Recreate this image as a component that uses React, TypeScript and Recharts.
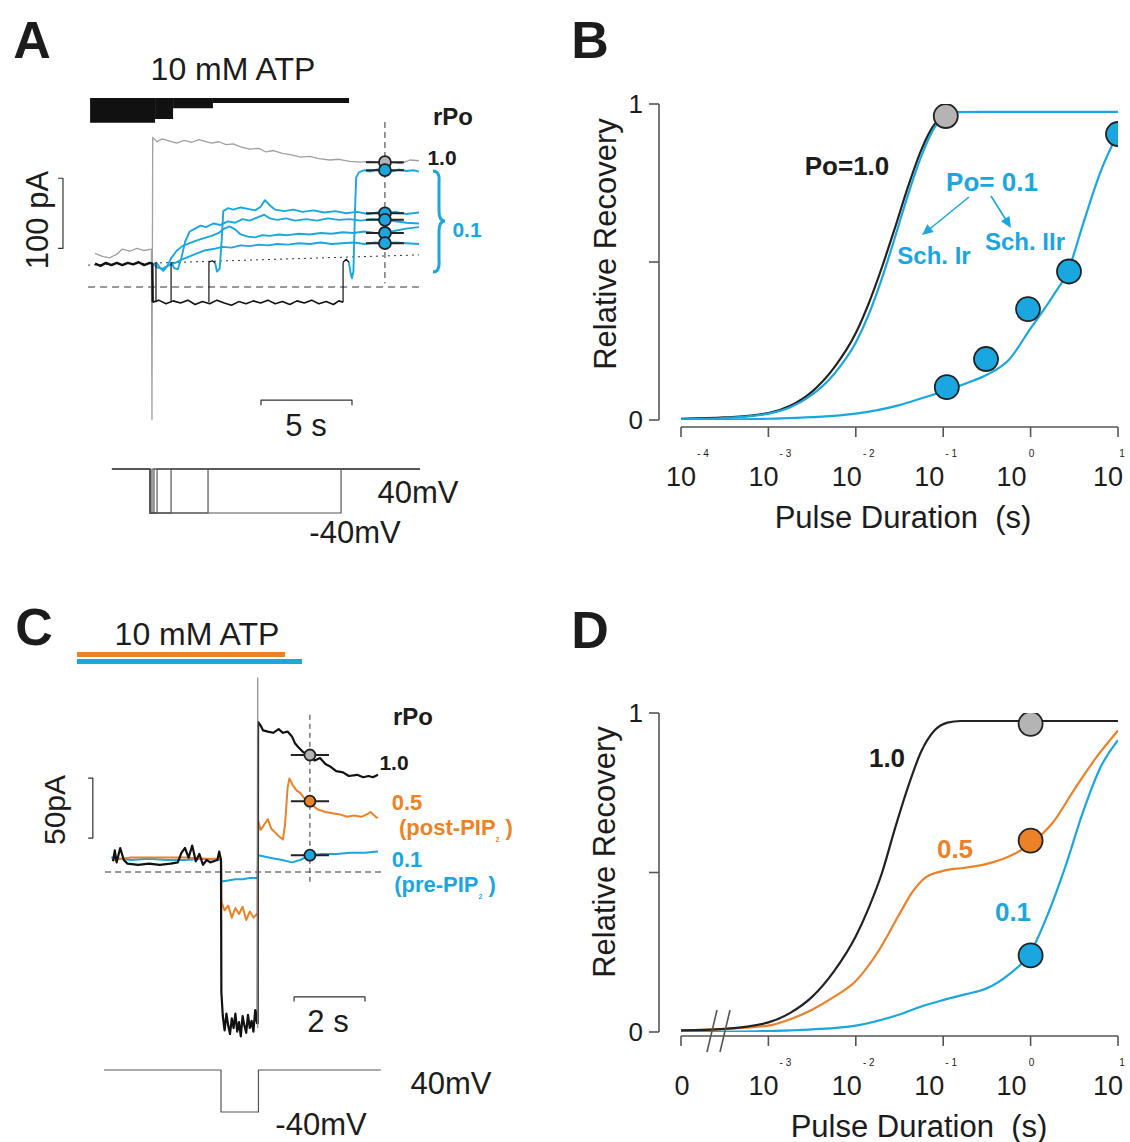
import React from "react";
import { ComposedChart, Line, XAxis, YAxis, Scatter, ErrorBar, ReferenceArea } from "recharts";

type Row = number[];

// ================= Panel A (time in s, current in pA) =================
const aGray: Row[] = [[0,46],[0.4,42],[0.8,40],[1.2,45],[1.5,52],[1.9,49],[2.3,53],[2.7,50],[3.1,52],[3.13,-182],[3.17,205],[3.4,199],[3.7,203],[4.1,200],[4.5,197],[4.9,201],[5.3,198],[5.7,202],[6.0,200],[6.4,197],[6.8,199],[7.2,195],[7.6,196],[8.0,192],[8.5,189],[9.0,190],[9.4,185],[9.8,187],[10.3,183],[10.8,181],[11.3,178],[11.8,179],[12.3,176],[12.9,174],[13.4,175],[14.0,172],[14.6,171],[15.1,172],[15.7,170],[16.2,171],[16.8,169],[17.3,174],[17.8,173]];
const aBlackPre: Row[] = [[0,32],[0.3,29],[0.6,33],[0.9,30],[1.2,33],[1.5,30],[1.8,33],[2.1,31],[2.4,34],[2.7,30],[3.0,33],[3.15,32],[3.17,-21]];
const aBlackLow: Row[] = [[3.17,-21],[3.5,-18],[3.9,-23],[4.3,-19],[4.7,-22],[5.1,-18],[5.5,-24],[5.9,-20],[6.3,-23],[6.7,-18],[7.1,-22],[7.5,-25],[7.9,-20],[8.3,-23],[8.7,-19],[9.1,-22],[9.5,-18],[9.9,-23],[10.3,-20],[10.7,-24],[11.1,-19],[11.5,-22],[11.9,-18],[12.3,-23],[12.7,-20],[13.1,-24],[13.4,-19],[13.63,-21]];
const aPulseEnds = [3.35, 4.18, 6.26, 13.63];
const aBlackHumps: Row[][] = [
  [[6.26,34],[6.45,36],[6.6,33]],
  [[13.63,34],[13.8,38],[13.95,34]],
];
const aCyanLow1: Row[] = [[6.6,33],[6.7,21],[6.85,25],[6.95,60],[7.05,104],[7.3,108],[7.6,106],[8.0,109],[8.4,107],[8.8,105],[9.1,110],[9.34,119],[9.6,112],[9.9,106],[10.4,104],[10.9,106],[11.4,103],[12.0,105],[12.6,102],[13.2,104],[13.8,101],[14.4,103],[15.0,100],[15.5,102],[15.93,101],[16.5,103],[17.1,100],[17.8,102]];
const aCyanLow2: Row[] = [[4.18,34],[4.35,26],[4.55,24],[4.75,40],[4.95,62],[5.2,76],[5.5,80],[5.8,84],[6.1,82],[6.5,87],[6.9,85],[7.3,90],[7.7,88],[8.1,93],[8.5,91],[9.0,96],[9.3,99],[9.6,94],[10.0,92],[10.5,94],[11.0,91],[11.6,93],[12.2,91],[12.8,94],[13.4,92],[14.0,93],[14.6,91],[15.2,93],[15.93,92],[16.5,90],[17.1,88],[17.8,87]];
const aCyanLow3: Row[] = [[3.35,34],[3.55,27],[3.75,22],[3.95,28],[4.2,40],[4.5,50],[4.8,56],[5.2,60],[5.6,64],[6.0,67],[6.4,70],[6.8,74],[7.1,80],[7.4,83],[7.7,79],[8.0,72],[8.4,69],[8.8,68],[9.2,71],[9.6,70],[10.1,72],[10.6,71],[11.2,73],[11.8,72],[12.4,74],[13.0,73],[13.6,75],[14.2,74],[14.8,76],[15.4,74],[15.93,74],[16.5,77],[17.1,80],[17.8,82]];
const aCyanLow4: Row[] = [[3.19,32],[3.4,27],[3.7,25],[4.0,29],[4.4,33],[4.8,38],[5.2,42],[5.6,46],[6.0,50],[6.5,52],[7.0,55],[7.5,54],[8.0,57],[8.5,56],[9.0,58],[9.5,57],[10.0,59],[10.6,58],[11.2,60],[11.8,59],[12.4,61],[13.0,59],[13.6,60],[14.2,61],[14.8,59],[15.4,61],[15.93,60],[16.5,61],[17.1,60],[17.8,59]];
const aCyanFull: Row[] = [[13.95,34],[14.05,18],[14.12,12],[14.2,22],[14.28,100],[14.35,150],[14.5,157],[14.8,160],[15.1,158],[15.5,161],[15.93,160],[16.3,158],[16.7,161],[17.1,159],[17.5,160],[17.8,158]];
const aMarkTime = 15.93;
const aMarkSpread = 1.04;
const aMarkGray = [171];
const aMarkCyan = [160, 101, 92, 74, 60];
const aZeroLine: Row[] = [[-0.38,0],[17.8,0]];
const aDriftLine: Row[] = [[-0.38,30],[17.8,44]];
const aMarkGuide: Row[] = [[15.93,226],[15.93,5]];
const aAtpTop = 259;
const aAtpSteps = [
  { from: -0.27, to: 3.30, low: 225 },
  { from: 3.30, to: 4.29, low: 230 },
  { from: 4.29, to: 6.48, low: 245 },
  { from: 6.48, to: 13.96, low: 252 },
];
const aTimeBar: Row[] = [[9.12,-162],[9.12,-155],[14.12,-155],[14.12,-162]];
const aCurrentBar: Row[] = [[-2.03,149],[-1.76,149],[-1.76,53],[-2.03,53]];
const aVoltRange = [0.93, 17.86];
const aVoltStart = 3.02;
const aVoltEnds = [3.13, 3.24, 3.41, 4.18, 6.21, 13.52];
const voltHigh = 40;
const voltLow = -40;

// ================= Panel C (time in s, current in pA) =================
const cCyan: Row[] = [[-3.05,12],[-2.5,10],[-2,11],[-1.5,10],[-1,10],[-0.5,11],[0,10],[0.01,-8],[0.2,-7],[0.4,-6],[0.6,-6],[0.8,-5],[1.0,-5],[1.02,-6],[1.03,14],[1.2,13],[1.5,11],[1.7,10],[1.97,8],[2.2,10],[2.47,14],[2.8,15],[3.2,15],[3.6,16],[4.0,16],[4.36,17]];
const cOrange: Row[] = [[-3.0,10],[-2.5,12],[-2.0,12],[-1.5,12],[-1.0,12],[-0.5,11],[0,11],[0.01,-25],[0.1,-32],[0.2,-28],[0.3,-38],[0.4,-30],[0.5,-35],[0.6,-29],[0.7,-40],[0.8,-33],[0.9,-38],[1.0,-35],[1.02,-35],[1.03,43],[1.1,35],[1.17,38],[1.3,44],[1.4,36],[1.5,33],[1.6,30],[1.72,27],[1.78,40],[1.85,70],[1.9,78],[2.0,72],[2.1,68],[2.2,66],[2.3,62],[2.47,60],[2.6,54],[2.7,52],[2.9,50],[3.1,49],[3.3,48],[3.5,46],[3.7,47],[3.9,46],[4.05,48],[4.15,50],[4.3,46],[4.36,45]];
const cBlack: Row[] = [[-3.0,9],[-2.95,18],[-2.9,8],[-2.8,20],[-2.7,10],[-2.6,7],[-2.3,6],[-2.0,7],[-1.7,6],[-1.4,7],[-1.2,8],[-1.1,16],[-1.0,20],[-0.9,12],[-0.8,22],[-0.7,9],[-0.6,15],[-0.5,6],[-0.4,10],[-0.3,8],[-0.2,9],[-0.1,10],[-0.05,17],[0,10],[0.01,-100],[0.05,-120],[0.1,-132],[0.15,-118],[0.2,-128],[0.25,-135],[0.3,-122],[0.35,-130],[0.4,-118],[0.45,-133],[0.5,-125],[0.55,-137],[0.6,-120],[0.65,-128],[0.7,-134],[0.75,-119],[0.8,-130],[0.85,-124],[0.9,-133],[0.95,-115],[1.0,-126],[1.02,-126],[1.03,125],[1.1,122],[1.17,118],[1.3,117],[1.45,116],[1.6,119],[1.72,116],[1.85,117],[1.97,113],[2.06,107],[2.15,104],[2.28,100],[2.4,98],[2.47,97],[2.6,93],[2.75,95],[2.9,90],[3.03,88],[3.2,84],[3.39,83],[3.55,80],[3.78,81],[3.95,79],[4.1,80],[4.22,79],[4.36,81]];
const cTransient: Row[] = [[1.02,-130],[1.02,162]];
const cZeroLine: Row[] = [[-3.22,0],[4.47,0]];
const cMarkGuide: Row[] = [[2.47,131],[2.47,-9]];
const cMarkTime = 2.47;
const cMarkSpread = 0.53;
const cMarkValues = [97.5, 59, 14];
const cAtpBars = [
  { from: -4.0, to: 2.25, low: 173.3, high: 177.5, kind: "cyan" },
  { from: -4.0, to: 1.78, low: 179.2, high: 183.3, kind: "orange" },
];
const cTimeBar: Row[] = [[2.03,-108],[2.03,-104],[4.0,-104],[4.0,-108]];
const cCurrentBar: Row[] = [[-3.69,78.3],[-3.56,78.3],[-3.56,28.3],[-3.69,28.3]];
const cVolt: Row[] = [[-3.25,40],[0,40],[0,-40],[1.04,-40],[1.04,40],[4.44,40]];

// ================= Panels B and D (duration s, relative recovery) =================
const bPo1: Row[] = [[1e-4,0.004],[3.16e-4,0.008],[1e-3,0.022],[1.78e-3,0.045],[3.16e-3,0.09],[5.62e-3,0.165],[0.01,0.275],[0.0141,0.37],[0.02,0.485],[0.0282,0.61],[0.0398,0.74],[0.0562,0.855],[0.0794,0.935],[0.107,0.962]];
const bSchI: Row[] = [[1e-4,0.002],[3.16e-4,0.006],[1e-3,0.02],[1.78e-3,0.04],[3.16e-3,0.08],[5.62e-3,0.145],[0.01,0.245],[0.0141,0.335],[0.02,0.45],[0.0282,0.58],[0.0398,0.715],[0.0562,0.835],[0.0794,0.925],[0.107,0.965],[0.141,0.974],[0.3,0.975],[1,0.975],[10,0.975]];
const bSchII: Row[] = [[1e-4,0.0],[1e-3,0.004],[3.16e-3,0.009],[0.01,0.02],[0.0316,0.047],[0.063,0.073],[0.1,0.09],[0.178,0.115],[0.316,0.143],[0.562,0.19],[1,0.29],[1.78,0.39],[2.75,0.48],[3.98,0.62],[6.31,0.785],[10,0.908]];
const bGrayPts: Row[] = [[0.107,0.962]];
const bCyanPts: Row[] = [[0.11,0.104],[0.309,0.193],[0.933,0.351],[2.75,0.47],[10,0.905]];

const dPo10: Row[] = [[1e-4,0.005],[3.16e-4,0.01],[1e-3,0.03],[1.78e-3,0.06],[3.16e-3,0.11],[5.62e-3,0.19],[0.01,0.30],[0.0141,0.39],[0.02,0.50],[0.0282,0.64],[0.0398,0.77],[0.0562,0.88],[0.0794,0.945],[0.112,0.97],[0.158,0.975],[1,0.975],[10,0.975]];
const dPo05: Row[] = [[1e-4,0.005],[3.16e-4,0.01],[1e-3,0.02],[1.78e-3,0.04],[3.16e-3,0.07],[5.62e-3,0.11],[0.01,0.16],[0.0178,0.25],[0.0316,0.37],[0.0447,0.44],[0.0631,0.485],[0.1,0.505],[0.178,0.515],[0.316,0.527],[0.562,0.55],[1,0.59],[1.78,0.655],[3.16,0.76],[5.62,0.86],[10,0.945]];
const dPo01: Row[] = [[1e-4,0.0],[1e-3,0.003],[3.16e-3,0.008],[0.01,0.02],[0.0316,0.055],[0.0562,0.08],[0.1,0.10],[0.178,0.118],[0.316,0.137],[0.562,0.18],[1,0.25],[1.58,0.37],[2.51,0.52],[3.98,0.69],[6.31,0.83],[10,0.915]];
const dPts: Row[] = [[1,0.966],[1,0.60],[1,0.24]];

const xTickValues = [0.0001, 0.001, 0.01, 0.1, 1, 10];
const yTickValues = [0, 0.5, 1];

// ================= styles =================
const FONT = '"Liberation Sans", Arial, Helvetica, sans-serif';
const INK = "#1c1c1c";
const AXIS = "#555";
const CYAN = "#1aa7df";
const ORANGE = "#ec8228";
const TRACE_GRAY = "#a0a0a0";
const DOT_GRAY = "#b4b4b4";
const xLabelShift = [0, -5, -9, -14, -19, -10];
const xSuperShift = [22, 22, 22, 22, 20, 14];

const tv = (rows: Row[]) => rows.map(([t, v]) => ({ t, v }));
const dr = (rows: Row[]) => rows.map(([d, r]) => ({ d, r }));

function line(key: string, data: any[], color: string, width = 1.3, dash?: string, k = "v", curve: any = "linear") {
  return (
    <Line key={key} data={data} dataKey={k} stroke={color} strokeWidth={width} strokeDasharray={dash}
      dot={false} activeDot={false} isAnimationActive={false} type={curve} strokeLinejoin="round" />
  );
}

function T({ x, y, s = 28, b = false, c = INK, r = 0, children }: any) {
  return (
    <div style={{
      position: "absolute", left: x, top: y,
      transform: `translate(-50%, -50%) rotate(${r}deg)`,
      fontFamily: FONT, fontSize: s, fontWeight: b ? 700 : 400, color: c,
      whiteSpace: "pre", lineHeight: 1,
    }}>{children}</div>
  );
}

function markShape(r: number) {
  return (p: any) => (
    <circle cx={p.cx} cy={p.cy} r={r} fill={p.payload.fill} stroke="#222" strokeWidth={1.8} />
  );
}

function TraceChart({ left, top, width, height, xDomain, yDomain, children }: any) {
  return (
    <div style={{ position: "absolute", left, top }}>
      <ComposedChart width={width} height={height} margin={{ top: 0, right: 0, bottom: 0, left: 0 }}>
        <XAxis type="number" dataKey="t" domain={xDomain} allowDataOverflow hide />
        <YAxis type="number" domain={yDomain} allowDataOverflow hide />
        {children}
      </ComposedChart>
    </div>
  );
}

function xTick(zeroFirst: boolean) {
  return (p: any) => {
    const e = Math.round(Math.log10(p.payload.value));
    const cx = p.x + (xLabelShift[e + 4] ?? 0);
    if (zeroFirst && e === -4) {
      return (
        <text x={cx + 1} y={p.y + 40} textAnchor="middle" dominantBaseline="central"
          fontSize={27} fill={INK} fontFamily={FONT}>0</text>
      );
    }
    return (
      <g>
        <text x={cx} y={p.y + 40} textAnchor="middle" dominantBaseline="central"
          fontSize={27} fill={INK} fontFamily={FONT}>10</text>
        <text x={cx + (xSuperShift[e + 4] ?? 22)} y={p.y + 16} textAnchor="middle" dominantBaseline="central"
          fontSize={10} fill={INK} fontFamily={FONT}>{e < 0 ? `- ${-e}` : `${e}`}</text>
      </g>
    );
  };
}

const yTick = (p: any) =>
  p.payload.value === 0.5 ? <g /> : (
    <text x={p.x} y={p.y} textAnchor="end" dominantBaseline="central" fontSize={26} fill={INK} fontFamily={FONT}>
      {p.payload.value}
    </text>
  );

function RecoveryChart({ top, padBottom, zeroFirst, children }: any) {
  const yLen = 323 - padBottom;
  return (
    <div style={{ position: "absolute", left: 560, top }}>
      <ComposedChart width={570} height={417} margin={{ top: 24, right: 12, bottom: 10, left: 39 }}>
        <XAxis type="number" dataKey="d" scale="log" domain={[1e-4, 10]} allowDataOverflow
          ticks={xTickValues} interval={0} padding={{ left: 22, right: 0 }} height={60}
          tickSize={10} tickMargin={0}
          axisLine={{ stroke: AXIS, strokeWidth: 1.6, strokeDasharray: "0 22 2000" }}
          tickLine={{ stroke: AXIS, strokeWidth: 1.6 }} tick={xTick(zeroFirst)} />
        <YAxis type="number" domain={[0, 1]} allowDataOverflow ticks={yTickValues} interval={0}
          padding={{ top: 0, bottom: padBottom }} width={60} tickSize={10} tickMargin={6}
          axisLine={{ stroke: AXIS, strokeWidth: 1.6, strokeDasharray: `${yLen} 2000` }}
          tickLine={{ stroke: AXIS, strokeWidth: 1.6 }} tick={yTick} />
        {children}
      </ComposedChart>
    </div>
  );
}

function arrowHead(x1: number, y1: number, x2: number, y2: number, len = 11, half = 5) {
  const dx = x2 - x1, dy = y2 - y1;
  const L = Math.hypot(dx, dy);
  const ux = dx / L, uy = dy / L;
  const bx = x2 - ux * len, by = y2 - uy * len;
  return `${x2},${y2} ${bx + uy * half},${by - ux * half} ${bx - uy * half},${by + ux * half}`;
}

export default function App() {
  const aMarks = [
    ...aMarkGray.map((v) => ({ t: aMarkTime, v, e: aMarkSpread, fill: DOT_GRAY })),
    ...aMarkCyan.map((v) => ({ t: aMarkTime, v, e: aMarkSpread, fill: CYAN })),
  ];
  const cFills = [DOT_GRAY, ORANGE, CYAN];
  const cMarks = cMarkValues.map((v, i) => ({ t: cMarkTime, v, e: cMarkSpread, fill: cFills[i] }));
  const bMarks = [
    ...bGrayPts.map(([d, r]) => ({ d, r, fill: DOT_GRAY })),
    ...bCyanPts.map(([d, r]) => ({ d, r, fill: CYAN })),
  ];
  const dFills = [DOT_GRAY, ORANGE, CYAN];
  const dMarks = dPts.map(([d, r], i) => ({ d, r, fill: dFills[i] }));

  const aVoltLines = aVoltEnds.map((end) => tv([
    [aVoltRange[0], voltHigh], [aVoltStart, voltHigh], [aVoltStart, voltLow],
    [end, voltLow], [end, voltHigh], [aVoltRange[1], voltHigh],
  ]));

  return (
    <div style={{ position: "absolute", left: 0, top: 0, width: 1130, height: 1142, background: "#fff", overflow: "hidden" }}>
      {/* ---------------- Panel A ---------------- */}
      <TraceChart left={40} top={90} width={381} height={340} xDomain={[-3.022, 17.912]} yDomain={[-195.9, 269.9]}>
        {aAtpSteps.map((s, i) => (
          <ReferenceArea key={`atp${i}`} x1={s.from} x2={s.to} y1={s.low} y2={aAtpTop} fill="#111" fillOpacity={1} stroke="none" ifOverflow="visible" />
        ))}
        {line("aZero", tv(aZeroLine), "#333", 1, "7 5")}
        {line("aDrift", tv(aDriftLine), "#333", 1, "2 4")}
        {line("aGuide", tv(aMarkGuide), "#333", 1, "6 4")}
        {line("aGray", tv(aGray), TRACE_GRAY, 1.3)}
        {line("aC4", tv(aCyanLow4), CYAN, 1.9)}
        {line("aC3", tv(aCyanLow3), CYAN, 1.9)}
        {line("aC2", tv(aCyanLow2), CYAN, 1.9)}
        {line("aC1", tv(aCyanLow1), CYAN, 1.9)}
        {line("aCF", tv(aCyanFull), CYAN, 1.9)}
        {line("aBPre", tv(aBlackPre), "#111", 2.4)}
        {line("aBLow", tv(aBlackLow), "#111", 1.6)}
        {aPulseEnds.map((e, i) => line(`aEnd${i}`, tv([[e, -21], [e, 34]]), "#111", 1.2))}
        {aBlackHumps.map((h, i) => line(`aHump${i}`, tv(h), "#111", 1.3))}
        {line("aTimeBar", tv(aTimeBar), "#333", 1.2)}
        {line("aCurBar", tv(aCurrentBar), "#333", 1.2)}
        <Scatter data={aMarks} dataKey="v" shape={markShape(6)} isAnimationActive={false}>
          <ErrorBar dataKey="e" direction="x" width={0} stroke="#222" strokeWidth={2} />
        </Scatter>
      </TraceChart>
      <TraceChart left={40} top={465} width={381} height={52} xDomain={[-3.022, 17.912]} yDomain={[-47.27, 47.27]}>
        {aVoltLines.map((d, i) => line(`aV${i}`, d, "#555", 1.2))}
      </TraceChart>

      {/* ---------------- Panel C ---------------- */}
      <TraceChart left={74} top={640} width={310} height={400} xDomain={[-4.0833, 4.5278]} yDomain={[-140, 193.333]}>
        {cAtpBars.map((s, i) => (
          <ReferenceArea key={`catp${i}`} x1={s.from} x2={s.to} y1={s.low} y2={s.high}
            fill={s.kind === "cyan" ? CYAN : ORANGE} fillOpacity={1} stroke="none" ifOverflow="visible" />
        ))}
        {line("cZero", tv(cZeroLine), "#333", 1, "6 4")}
        {line("cGuide", tv(cMarkGuide), "#333", 1, "5 4")}
        {line("cCyan", tv(cCyan), CYAN, 2)}
        {line("cOrange", tv(cOrange), ORANGE, 2)}
        {line("cBlack", tv(cBlack), "#111", 2.2)}
        {line("cTrans", tv(cTransient), "#888", 1.2)}
        {line("cTimeBar", tv(cTimeBar), "#333", 1.2)}
        {line("cCurBar", tv(cCurrentBar), "#333", 1.2)}
        <Scatter data={cMarks} dataKey="v" shape={markShape(5.5)} isAnimationActive={false}>
          <ErrorBar dataKey="e" direction="x" width={0} stroke="#222" strokeWidth={2} />
        </Scatter>
      </TraceChart>
      <TraceChart left={74} top={1066} width={310} height={50} xDomain={[-4.0833, 4.5278]} yDomain={[-47.62, 47.62]}>
        {line("cV", tv(cVolt), "#555", 1.2)}
      </TraceChart>

      {/* ---------------- Panel B ---------------- */}
      <RecoveryChart top={80} padBottom={7} zeroFirst={false}>
        {line("bII", dr(bSchII), CYAN, 2.2, undefined, "r", "monotone")}
        {line("bPo1", dr(bPo1), "#222", 2.2, undefined, "r", "monotone")}
        {line("bI", dr(bSchI), CYAN, 2.2, undefined, "r", "monotone")}
        <Scatter data={bMarks} dataKey="r" shape={markShape(12)} isAnimationActive={false} />
      </RecoveryChart>

      {/* ---------------- Panel D ---------------- */}
      <RecoveryChart top={689} padBottom={4} zeroFirst={true}>
        {line("d01", dr(dPo01), CYAN, 2.2, undefined, "r", "monotone")}
        {line("d05", dr(dPo05), ORANGE, 2.2, undefined, "r", "monotone")}
        {line("d10", dr(dPo10), "#222", 2.2, undefined, "r", "monotone")}
        <Scatter data={dMarks} dataKey="r" shape={markShape(12)} isAnimationActive={false} />
      </RecoveryChart>

      {/* decorations */}
      <svg width={1130} height={1142} style={{ position: "absolute", left: 0, top: 0, pointerEvents: "none" }}>
        <path d="M433,171 Q440,171 439,182 L439,211 Q439,221 445,221 Q439,221 439,231 L439,261 Q440,272 433,272"
          fill="none" stroke={CYAN} strokeWidth={3} />
        <line x1={969} y1={197} x2={926} y2={232} stroke={CYAN} strokeWidth={1.6} />
        <polygon points={arrowHead(969, 197, 922, 235)} fill={CYAN} />
        <line x1={991} y1={196} x2={1008} y2={223} stroke={CYAN} strokeWidth={1.6} />
        <polygon points={arrowHead(991, 196, 1011, 228)} fill={CYAN} />
        <line x1={707} y1={1052} x2={717} y2={1010} stroke={AXIS} strokeWidth={1.6} />
        <line x1={720} y1={1052} x2={730} y2={1010} stroke={AXIS} strokeWidth={1.6} />
      </svg>

      {/* texts A */}
      <T x={32} y={40} s={52} b>A</T>
      <T x={233} y={69} s={32}>10 mM ATP</T>
      <T x={453} y={117} s={24} b>rPo</T>
      <T x={442} y={157} s={21} b>1.0</T>
      <T x={467} y={229} s={21} b c={CYAN}>0.1</T>
      <T x={37} y={220} s={31} r={-90}>100 pA</T>
      <T x={306} y={425} s={31}>5 s</T>
      <T x={418} y={492} s={31}>40mV</T>
      <T x={355} y={532} s={31}>-40mV</T>

      {/* texts B */}
      <T x={590} y={40} s={52} b>B</T>
      <T x={605} y={244} s={31} r={-90}>Relative Recovery</T>
      <T x={903} y={517} s={31}>{"Pulse Duration  (s)"}</T>
      <T x={847} y={166} s={26} b>Po=1.0</T>
      <T x={992} y={182} s={26} b c={CYAN}>Po= 0.1</T>
      <T x={934} y={256} s={24} b c={CYAN}>Sch. Ir</T>
      <T x={1025} y={242} s={24} b c={CYAN}>Sch. IIr</T>

      {/* texts C */}
      <T x={34} y={627} s={52} b>C</T>
      <T x={197} y={634} s={32}>10 mM ATP</T>
      <T x={413} y={717} s={24} b>rPo</T>
      <T x={394} y={762} s={21} b>1.0</T>
      <T x={407} y={803} s={22} b c={ORANGE}>0.5</T>
      <T x={456} y={830} s={22} b c={ORANGE}>(post-PIP<span style={{ fontSize: 7, verticalAlign: "-7px" }}>2</span> )</T>
      <T x={407} y={860} s={22} b c={CYAN}>0.1</T>
      <T x={445} y={887} s={22} b c={CYAN}>(pre-PIP<span style={{ fontSize: 7, verticalAlign: "-7px" }}>2</span> )</T>
      <T x={55} y={810} s={30} r={-90}>50pA</T>
      <T x={328} y={1021} s={31}>2 s</T>
      <T x={451} y={1083} s={31}>40mV</T>
      <T x={321} y={1124} s={31}>-40mV</T>

      {/* texts D */}
      <T x={590} y={630} s={52} b>D</T>
      <T x={604} y={852} s={31} r={-90}>Relative Recovery</T>
      <T x={919} y={1126} s={31}>{"Pulse Duration  (s)"}</T>
      <T x={887} y={758} s={26} b>1.0</T>
      <T x={955} y={849} s={26} b c={ORANGE}>0.5</T>
      <T x={1013} y={912} s={26} b c={CYAN}>0.1</T>
    </div>
  );
}
